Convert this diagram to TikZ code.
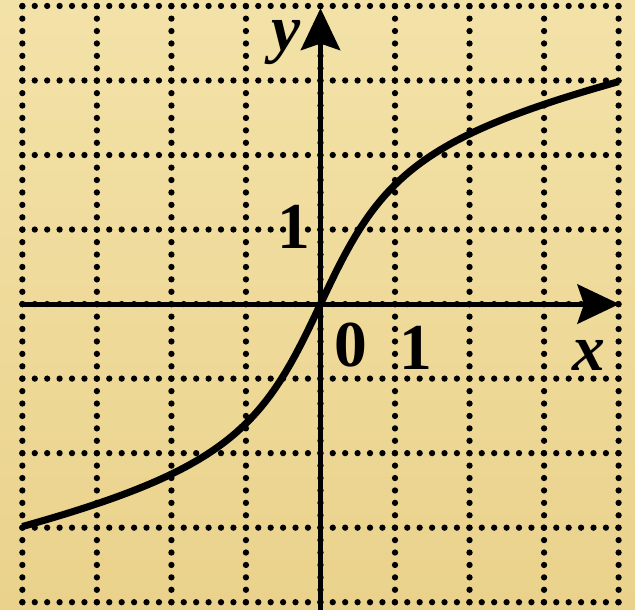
\documentclass[tikz,border=0pt]{standalone}
\usepackage{fontspec}
\setmainfont{Liberation Serif}
\usetikzlibrary{arrows.meta}
\definecolor{paper}{RGB}{243,226,168}
\definecolor{paperdark}{RGB}{234,210,140}
\begin{document}
\begin{tikzpicture}[every node/.style={font=\fontsize{25}{25}\selectfont\bfseries,inner sep=0pt},
  dotline/.style={line width=2.4pt,line cap=round,dash pattern=on 0pt off 4.74pt},
  axis/.style={line width=1.9pt,-{Stealth[length=16pt,width=15pt,inset=2.5pt]}}]
% paper background
\shade[top color=paper,bottom color=paperdark] (-4.30,-4.10) rectangle (4.22,4.08);
\useasboundingbox (-4.30,-4.10) rectangle (4.22,4.08);
% dotted grid
\foreach \i in {-4,...,4} {\draw[dotline] (\i,-4) -- (\i,4); \draw[dotline] (-4,\i) -- (4,\i);}
% axes
\coordinate (xs) at (-4,0); \coordinate (xe) at (4.01,0);
\coordinate (ys) at (0,-4.10); \coordinate (ye) at (0,3.97);
\draw[axis] (xs) -- (xe);
\draw[axis] (ys) -- (ye);
\node[font=\fontsize{25}{25}\selectfont\bfseries\itshape] (xlab) at (3.60,-0.69) {x};
\node[font=\fontsize{25}{25}\selectfont\bfseries\itshape] (ylab) at (-0.46,3.51) {y};
\node (orig) at (0.41,-0.55) {0};
\node (xone) at (1.28,-0.59) {1};
\node (yone) at (-0.36,1.03) {1};
% the curve
\draw[line width=2.7pt] plot[domain=-4:4,samples=121] (\x,{1.6*rad(atan(1.2*\x))+0.2*\x});
\end{tikzpicture}
\end{document}
